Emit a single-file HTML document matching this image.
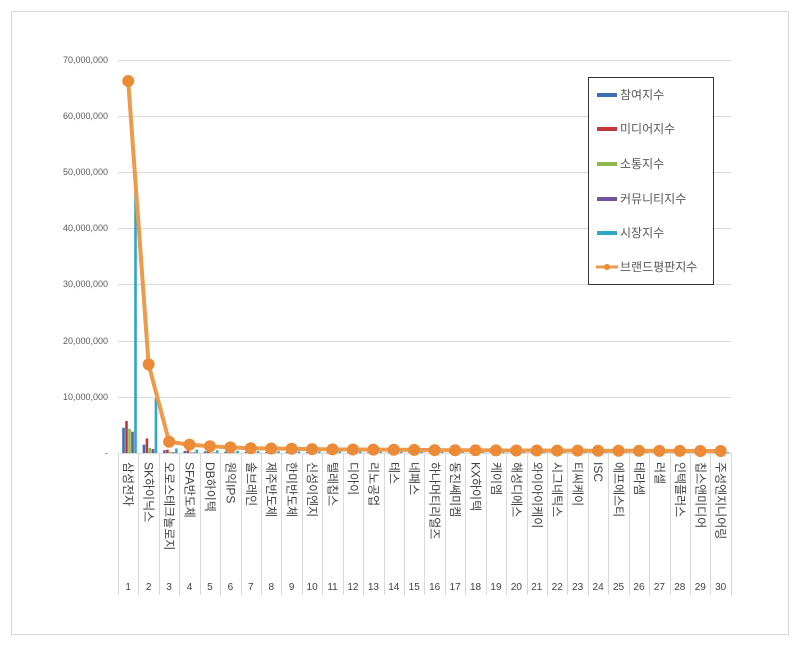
<!DOCTYPE html><html><head><meta charset="utf-8"><style>body{margin:0;background:#fff}svg text{font-family:"Liberation Sans","Noto Sans CJK KR",sans-serif;fill:#595959}#labels text{fill:#404040}</style></head><body>
<svg width="800" height="645" xmlns="http://www.w3.org/2000/svg">
<rect x="11.5" y="11.5" width="777" height="623" fill="#fff" stroke="#d9d9d9"/>
<g stroke="#d9d9d9" stroke-width="1">
<line x1="118" x2="731" y1="60.5" y2="60.5"/><line x1="118" x2="731" y1="116.5" y2="116.5"/><line x1="118" x2="731" y1="172.5" y2="172.5"/><line x1="118" x2="731" y1="228.5" y2="228.5"/><line x1="118" x2="731" y1="284.5" y2="284.5"/><line x1="118" x2="731" y1="341.5" y2="341.5"/><line x1="118" x2="731" y1="397.5" y2="397.5"/><line x1="118" x2="731" y1="453.5" y2="453.5"/>
</g>
<g font-size="9" text-anchor="end">
<text x="108" y="63">70,000,000</text><text x="108" y="119">60,000,000</text><text x="108" y="175">50,000,000</text><text x="108" y="231">40,000,000</text><text x="108" y="287">30,000,000</text><text x="108" y="344">20,000,000</text><text x="108" y="400">10,000,000</text><text x="108" y="456">-</text>
</g>
<g id="grid"></g>
<g id="bars"></g>
<g id="labels" font-size="12"></g>
<polyline id="ln" fill="none" stroke="#ed9a4b" stroke-width="4"/>
<g id="dots" fill="#ed8a35"></g>
<rect x="588.5" y="77.5" width="125" height="207" fill="#fff" stroke="#333"/>
<g font-size="12">
<rect x="597" y="93" width="20" height="4" fill="#3a6fb2"/><text x="620" y="99">참여지수</text>
<rect x="597" y="127" width="20" height="4" fill="#c0393a"/><text x="620" y="133">미디어지수</text>
<rect x="597" y="162" width="20" height="4" fill="#8fb94b"/><text x="620" y="168">소통지수</text>
<rect x="597" y="197" width="20" height="4" fill="#7153a0"/><text x="620" y="203">커뮤니티지수</text>
<rect x="597" y="231" width="20" height="4" fill="#2fa6c6"/><text x="620" y="237">시장지수</text>
<line x1="596" x2="618" y1="267" y2="267" stroke="#ed9a4b" stroke-width="3"/><circle cx="607" cy="267" r="3" fill="#ed8a35"/><text x="620" y="271">브랜드평판지수</text>
</g>
<script>
var names=["삼성전자","SK하이닉스","오로스테크놀로지","SFA반도체","DB하이텍","원익IPS","솔브레인","제주반도체","한미반도체","신성이엔지","텔레칩스","디아이","리노공업","테스","네패스","하나머티리얼즈","동진쎄미켐","KX하이텍","케이엠","해성디에스","와이아이케이","시그네틱스","티씨케이","ISC","에프에스티","테라셈","러셀","인텍플러스","칩스앤미디어","주성엔지니어링"];
var v=[66.3,15.8,2.0,1.5,1.2,1.0,0.85,0.8,0.75,0.7,0.65,0.62,0.6,0.58,0.55,0.52,0.5,0.48,0.46,0.45,0.44,0.43,0.42,0.41,0.4,0.39,0.38,0.37,0.36,0.35];
var ns="http://www.w3.org/2000/svg",w=20.43,x0=118,Y=function(m){return 453-m*5.61};
function el(t,a,p){var e=document.createElementNS(ns,t);for(var k in a)e.setAttribute(k,a[k]);document.getElementById(p).appendChild(e);return e}
var pts=[];
for(var i=0;i<30;i++){var cx=x0+w*(i+0.5),b=x0+w*(i+1);
el("line",{x1:Math.round(b)+.5,x2:Math.round(b)+.5,y1:453,y2:595,stroke:"#d9d9d9"},"grid");
if(i==0)el("line",{x1:118.5,x2:118.5,y1:453,y2:595,stroke:"#d9d9d9"},"grid");
var t=el("text",{x:0,y:0,transform:"translate("+(cx-4)+",462) rotate(90)","font-size":"12"},"labels");t.textContent=names[i];
var n=el("text",{x:cx,y:590,"text-anchor":"middle","font-size":"10"},"labels");n.textContent=i+1;
pts.push(cx.toFixed(1)+","+Y(v[i]).toFixed(1));
el("circle",{cx:cx,cy:Y(v[i]),r:6},"dots");
var bv=i==0?[4.5,5.7,4.3,3.8,47.3]:i==1?[1.5,2.6,0.9,0.7,9.8]:[v[i]*0.25,v[i]*0.3,v[i]*0.1,v[i]*0.08,v[i]*0.4];
var cols=["#3a6fb2","#c0393a","#8fb94b","#7153a0","#2fa6c6"];
for(var j=0;j<5;j++)el("rect",{x:cx-6+j*3,y:Y(bv[j]),width:2.6,height:453-Y(bv[j]),fill:cols[j]},"bars");}
document.getElementById("ln").setAttribute("points",pts.join(" "));
</script>
</svg></body></html>
